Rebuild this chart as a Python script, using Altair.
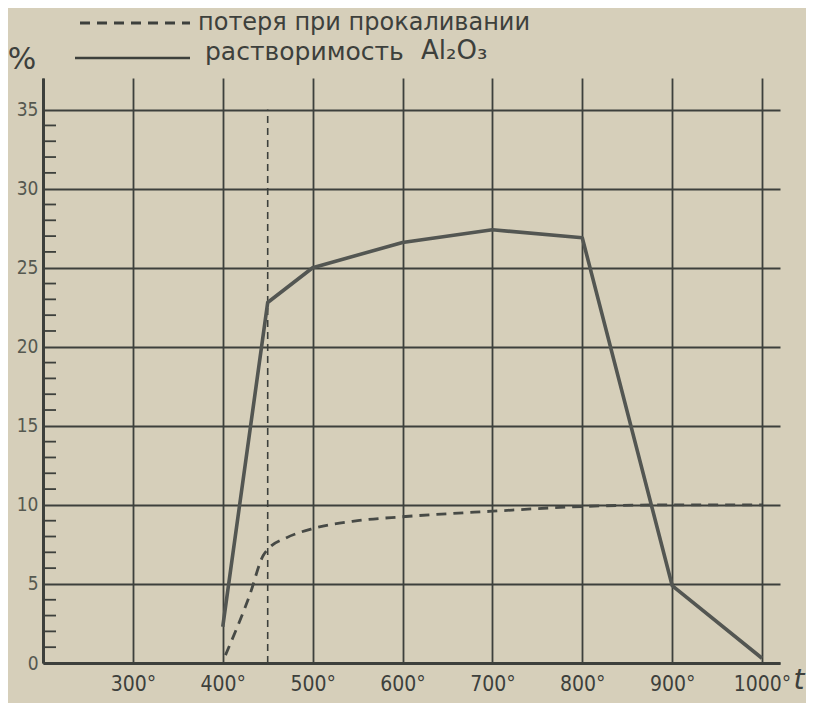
import altair as alt
import pandas as pd

# ---- data ----
sol_t = [400, 450, 500, 600, 700, 800, 900, 1000]
sol_v = [2.3, 22.8, 25.0, 26.6, 27.4, 26.9, 4.9, 0.3]

loss_t = [403, 430, 445, 452, 470, 500, 550, 600, 700, 800, 900, 1000]
loss_v = [0.5, 4.3, 6.8, 7.3, 7.9, 8.5, 9.0, 9.25, 9.6, 9.9, 10.0, 10.0]

vline_t = [450, 450]
vline_v = [0, 35]

x_ticks = [200, 300, 400, 500, 600, 700, 800, 900, 1000]
y_ticks = [0, 5, 10, 15, 20, 25, 30, 35]
minor_y = [v for v in range(1, 35) if v % 5 != 0]

legend_loss = "потеря при прокаливании"
legend_sol_word = "растворимость"
legend_sol_formula = "Al₂O₃"

INK = "#3d403c"
PAPER = "#d6cfba"
FONT = "DejaVu Sans"
FONT_C = "DejaVu Sans Condensed"

xs = alt.Scale(domain=[200, 1020], nice=False, zero=False)
ys = alt.Scale(domain=[0, 37], nice=False)

sol_df = pd.DataFrame({"t": sol_t, "v": sol_v})
loss_df = pd.DataFrame({"t": loss_t, "v": loss_v})
vline_df = pd.DataFrame({"t": vline_t, "v": vline_v})
minor_df = pd.DataFrame({"v": minor_y})
one = pd.DataFrame({"a": [0]})

xaxis = alt.Axis(values=x_ticks, grid=True, gridColor=INK, gridWidth=1.8,
                 domainColor=INK, domainWidth=3, ticks=False,
                 labelExpr="datum.value == 200 ? '' : datum.value + '°'",
                 labelFontSize=21, labelFont=FONT_C, labelColor=INK, labelPadding=10,
                 title=None)
yaxis = alt.Axis(values=y_ticks, grid=True, gridColor=INK, gridWidth=1.8,
                 domainColor=INK, domainWidth=3, ticks=False,
                 labelFontSize=19, labelFont=FONT_C, labelColor="#555850", labelPadding=5,
                 title=None)

base_axes = alt.Chart(sol_df).mark_line(opacity=0).encode(
    x=alt.X("t:Q", scale=xs, axis=xaxis),
    y=alt.Y("v:Q", scale=ys, axis=yaxis),
)

minor = alt.Chart(minor_df).mark_rule(color=INK, strokeWidth=1.8).encode(
    y=alt.Y("v:Q", scale=ys),
    x=alt.value(0), x2=alt.value(13),
)

vline = alt.Chart(vline_df).mark_line(color=INK, strokeWidth=1.6, strokeDash=[7, 5]).encode(
    x=alt.X("t:Q", scale=xs), y=alt.Y("v:Q", scale=ys)
)

loss = alt.Chart(loss_df).mark_line(color="#474a46", strokeWidth=2.8, strokeDash=[10, 7],
                                     interpolate="monotone").encode(
    x=alt.X("t:Q", scale=xs), y=alt.Y("v:Q", scale=ys)
)

sol = alt.Chart(sol_df).mark_line(color="#535652", strokeWidth=3.6, strokeJoin="round").encode(
    x=alt.X("t:Q", scale=xs), y=alt.Y("v:Q", scale=ys)
)

t_label = alt.Chart(one).mark_text(text="t", font=FONT, fontSize=28, fontStyle="italic",
                                   color=INK, align="center", baseline="middle").encode(
    x=alt.value(756), y=alt.value(603)
)

pct = alt.Chart(one).mark_text(text="%", font=FONT, fontSize=30, color=INK,
                               align="center", baseline="middle").encode(
    x=alt.value(-21), y=alt.value(-18)
)

leg_rule1 = alt.Chart(one).mark_rule(color=INK, strokeWidth=2.8, strokeDash=[10, 7]).encode(
    x=alt.value(37), x2=alt.value(147), y=alt.value(-55)
)
leg_rule2 = alt.Chart(one).mark_rule(color=INK, strokeWidth=2.5).encode(
    x=alt.value(32), x2=alt.value(147), y=alt.value(-20)
)
leg_text1 = alt.Chart(one).mark_text(text=legend_loss, font=FONT, fontSize=24, color=INK,
                                     align="left", baseline="middle").encode(
    x=alt.value(155), y=alt.value(-55)
)
leg_text2 = alt.Chart(one).mark_text(text=legend_sol_word, font=FONT, fontSize=25, color=INK,
                                     align="left", baseline="middle").encode(
    x=alt.value(162), y=alt.value(-26)
)
leg_text3 = alt.Chart(one).mark_text(text=legend_sol_formula, font=FONT, fontSize=26, color=INK,
                                     align="left", baseline="middle").encode(
    x=alt.value(378), y=alt.value(-27)
)

chart = alt.layer(
    base_axes, minor, vline, loss, sol, t_label, pct,
    leg_rule1, leg_rule2, leg_text1, leg_text2, leg_text3
).properties(
    width=737, height=585,
    padding={"left": 35, "top": 70, "right": 26, "bottom": 40},
    autosize=alt.AutoSizeParams(type="none"),
    background=PAPER,
).configure_view(stroke=None)

chart.save("out.html", embed_options={"renderer": "svg", "actions": False})
